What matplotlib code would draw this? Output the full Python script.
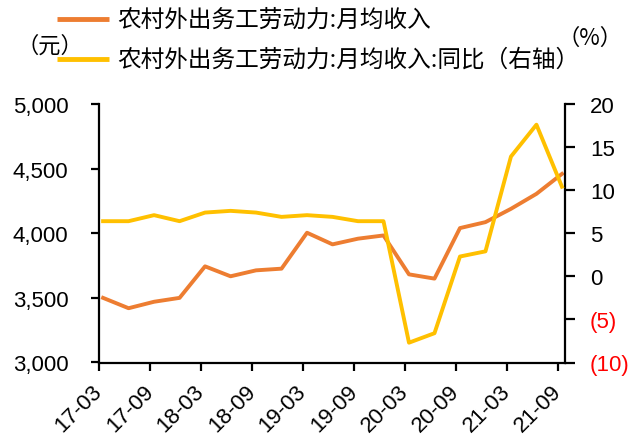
import matplotlib
matplotlib.use("Agg")
import matplotlib.pyplot as plt
from matplotlib.lines import Line2D
from matplotlib.ticker import FuncFormatter

plt.rcParams['font.family'] = ['Liberation Sans', 'Noto Sans CJK SC']

# quarterly data, 17-03 .. 21-09
quarters = ['17-03', '17-06', '17-09', '17-12', '18-03', '18-06', '18-09', '18-12',
            '19-03', '19-06', '19-09', '19-12', '20-03', '20-06', '20-09', '20-12',
            '21-03', '21-06', '21-09']
income = [3500, 3420, 3470, 3500, 3744, 3667, 3713, 3726, 4004, 3914, 3958, 3983,
          3682, 3649, 4040, 4086, 4189, 4305, 4459]
income_yoy = [6.4, 6.4, 7.1, 6.4, 7.4, 7.6, 7.4, 6.9, 7.1, 6.9, 6.4, 6.4,
              -7.7, -6.6, 2.3, 2.9, 13.9, 17.6, 10.4]

label_income = '农村外出务工劳动力:月均收入'
label_yoy = '农村外出务工劳动力:月均收入:同比（右轴）'

orange = '#ED7D31'
yellow = '#FFC000'
fs = 16
W, H = 629, 439
cjk = ['Noto Sans CJK SC', 'DejaVu Sans']

fig = plt.figure(figsize=(W / 100, H / 100), dpi=100)
ax = fig.add_axes([99 / W, 1 - 363.5 / H, 466 / W, 258.5 / H])
ax2 = ax.twinx()

x = list(range(len(quarters)))
l1, = ax.plot(x, income, color=orange, lw=2.8, zorder=3)
l2, = ax2.plot(x, income_yoy, color=yellow, lw=2.8, zorder=3)

ax.set_ylim(3000, 5000)
ax.set_yticks([3000, 3500, 4000, 4500, 5000])
ax.yaxis.set_major_formatter(FuncFormatter(lambda v, p: f"{int(v):,}"))
ax2.set_ylim(-10, 20)
ax2.set_yticks([-10, -5, 0, 5, 10, 15, 20])
ax2.yaxis.set_major_formatter(FuncFormatter(lambda v, p: f"({int(-v)})" if v < 0 else f"{int(v)}"))

# half-year ticks, sitting a little left of the quarter points
ax.set_xlim(-0.16, 18.12)
ax.set_xticks([i - 0.155 for i in x[::2]])
ax.set_xticklabels(quarters[::2], rotation=45, ha='right', va='center',
                   rotation_mode='anchor', fontsize=fs)

for a in (ax, ax2):
    a.spines['top'].set_visible(False)
    for s in a.spines.values():
        s.set_linewidth(1.6)
ax.spines['right'].set_visible(False)
ax2.spines['left'].set_visible(False)
ax2.spines['bottom'].set_visible(False)
ax.tick_params(axis='y', width=1.6, length=6, pad=16, labelsize=fs)
ax.tick_params(axis='x', width=1.6, length=6, pad=12, labelsize=fs)
ax2.tick_params(axis='y', width=1.6, length=7, pad=11, labelsize=fs)

for t in ax2.get_yticklabels():
    if t.get_text().startswith('('):
        t.set_color('red')

# legend drawn by hand at the top left
for ypx, line, label in [(20, l1, label_income), (60, l2, label_yoy)]:
    yf = 1 - ypx / H
    fig.add_artist(Line2D([57 / W, 109 / W], [yf, yf], transform=fig.transFigure,
                          color=line.get_color(), lw=3.5, solid_capstyle='butt'))
    fig.text(117 / W, yf, label, fontsize=17, ha='left', va='center', family=cjk)

fig.text(50 / W, 1 - 46 / H, '（元）', fontsize=fs, ha='center', va='center', family=cjk)
fig.text(590 / W, 1 - 38 / H, '（%）', fontsize=fs, ha='center', va='center', family=cjk)

fig.savefig('out.png', dpi=100)
